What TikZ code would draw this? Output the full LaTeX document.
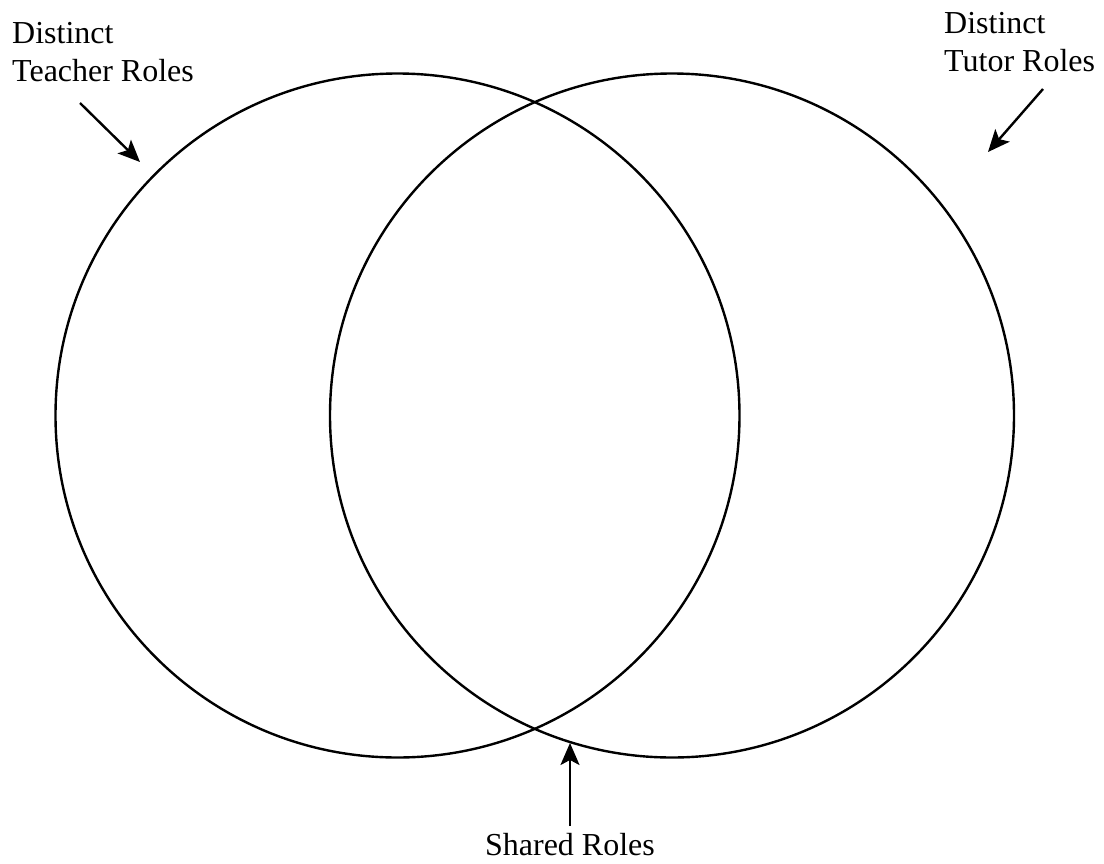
\documentclass[tikz,border=0pt]{standalone}
\usepackage{fontspec}
\setmainfont{Liberation Serif}
\usetikzlibrary{arrows.meta}
\begin{document}
\begin{tikzpicture}[x=1pt,y=-1pt,
  ring/.style={circle,draw,line width=2.4pt,minimum size=684pt,inner sep=0pt},
  lbl/.style={font=\fontsize{32}{38}\selectfont,inner sep=0pt,align=left},
  pointer/.style={line width=2.4pt,-{Stealth[length=22pt,width=19pt,inset=5pt]}}]
\useasboundingbox[fill=white] (0,0) rectangle (1104,863);
\node[ring] (teacher) at (397.5,415.5) {};
\node[ring] (tutor) at (672,415.5) {};
\node[lbl,anchor=north west] (tlabel) at (12,22) {Distinct\\Teacher Roles};
\node[lbl,anchor=north west] (ulabel) at (944,12) {Distinct\\Tutor Roles};
\node[lbl,anchor=base] (slabel) at (570,855) {Shared Roles};
\coordinate (ta) at (80,103);
\coordinate (tb) at (140,162);
\coordinate (ua) at (1043,89);
\coordinate (ub) at (988,152);
\coordinate (sa) at (570,826);
\coordinate (sb) at (570,743);
\draw[pointer] (ta) -- (tb);
\draw[pointer] (ua) -- (ub);
\draw[pointer] (sa) -- (sb);
\end{tikzpicture}
\end{document}
